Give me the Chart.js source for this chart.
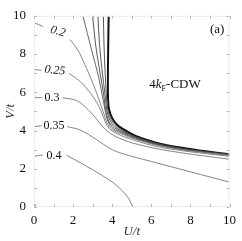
<!DOCTYPE html>
<html>
<head>
<meta charset="utf-8">
<script src="https://cdn.jsdelivr.net/npm/chart.js@4/dist/chart.umd.min.js"></script>
<style>
  html, body { margin: 0; padding: 0; background: #fff; }
  canvas { display: block; }
</style>
</head>
<body>
<canvas id="phase" width="242" height="241"></canvas>
<script>
// contour lines, [U/t, V/t]; null = gap where the label sits
const boundary = [[3.82,10],[3.79,8],[3.78,6.5],[3.79,5.6],[3.84,5.1],[4.0,4.65],[4.25,4.3],[4.6,4.05],[5.2,3.72],[6.2,3.38],[7.4,3.12],[8.7,2.93],[10,2.76]];
const line1 = [[3.55,10],[3.58,8.5],[3.64,7],[3.7,5.9],[3.77,5.1],[3.93,4.6],[4.2,4.25],[4.6,3.98],[5.2,3.68],[6.2,3.35],[7.4,3.1],[8.7,2.91],[10,2.745]];
const line2 = [[3.27,10],[3.35,8.5],[3.5,7],[3.63,5.9],[3.72,5.1],[3.88,4.55],[4.15,4.2],[4.6,3.93],[5.2,3.65],[6.2,3.33],[7.4,3.08],[8.7,2.9],[10,2.735]];
const line3 = [[3.0,10],[3.15,8.5],[3.38,7],[3.56,5.9],[3.66,5.1],[3.82,4.5],[4.1,4.15],[4.6,3.88],[5.2,3.61],[6.2,3.3],[7.4,3.06],[8.7,2.88],[10,2.725]];
const line4 = [[2.5,10],[2.96,8.16],[3.32,6.73],[3.57,5.41],[3.66,4.95],[3.8,4.45],[4.05,4.1],[4.6,3.83],[5.2,3.58],[6.2,3.28],[7.4,3.04],[8.7,2.87],[10,2.715]];
const c020 = [[0,9.64],[0.46,9.44],null,[1.85,8.75],[2.25,8.2],[2.6,7.45],[2.9,6.75],[3.15,6.1],[3.4,5.4],[3.58,4.85],[3.75,4.38],[4.0,4.05],[4.6,3.77],[5.2,3.54],[6.2,3.25],[7.4,3.02],[8.7,2.85],[10,2.7]];
const c025 = [[0,7.2],[0.38,7.14],null,[1.79,6.99],[2.45,6.48],[3.06,5.71],[3.35,5.2],[3.55,4.7],[3.75,4.25],[4.0,3.97],[4.6,3.68],[5.2,3.47],[6.2,3.18],[7.4,2.97],[8.7,2.8],[10,2.65]];
const c030 = [[0,5.72],[0.42,5.72],null,[1.48,5.71],[2.19,5.56],[2.76,5.1],[3.21,4.59],[3.62,4.08],[4.08,3.74],[4.6,3.5],[5.1,3.33],[6.12,3.08],[7.5,2.84],[8.7,2.67],[10,2.5]];
const c035 = [[0,4.2],[0.4,4.25],null,[1.7,4.2],[2.35,4.03],[3.21,3.52],[3.88,3.06],[4.5,2.8],[6,2.38],[8,1.84],[10,1.3]];
const c040 = [[0,2.65],[0.45,2.72],null,[1.68,2.7],[2.5,2.24],[3.52,1.63],[4.23,1.12],[4.8,0.51],[5.05,0]];
const corner = [[0,0.2],[0.12,0]];

const contourLabels = ['0.2', '0.25', '0.3', '0.35', '0.4'];
const labelAt = [[1.22,9.18],[1.07,7.14],[0.92,5.71],[1.02,4.23],[1.02,2.7]];
const labelTilt = [0.28, 0.1, 0, 0, 0];
const xTicks = [0, 2, 4, 6, 8, 10];
const yTicks = [0, 2, 4, 6, 8, 10];

const SERIF = '"Liberation Serif", "DejaVu Serif", serif';

function pts(arr) {
  return arr.map(p => p ? { x: p[0], y: p[1] } : { x: null, y: null });
}

function thin(arr, color) {
  return { data: pts(arr), borderColor: color, borderWidth: 0.9, showLine: true, pointRadius: 0, tension: 0.35, spanGaps: false };
}

const frameAndText = {
  id: 'frameAndText',
  afterDraw(chart) {
    const ctx = chart.ctx;
    const a = chart.chartArea;
    const xs = chart.scales.x, ys = chart.scales.y;
    ctx.save();
    ctx.strokeStyle = '#ececec';
    ctx.lineWidth = 1;
    ctx.strokeRect(a.left + 0.5, a.top + 0.5, a.right - a.left - 1, a.bottom - a.top - 1);
    ctx.strokeStyle = '#b8b8b8';
    ctx.beginPath();
    for (let v = 0; v <= 10; v++) {
      const px = Math.round(xs.getPixelForValue(v)) + 0.5;
      const py = Math.round(ys.getPixelForValue(v)) + 0.5;
      ctx.moveTo(px, a.bottom); ctx.lineTo(px, a.bottom - 3);
      ctx.moveTo(px, a.top); ctx.lineTo(px, a.top + 3);
      ctx.moveTo(a.left, py); ctx.lineTo(a.left + 3, py);
      ctx.moveTo(a.right, py); ctx.lineTo(a.right - 3, py);
    }
    ctx.stroke();

    // contour labels
    ctx.fillStyle = '#111';
    ctx.textAlign = 'center';
    ctx.textBaseline = 'middle';
    contourLabels.forEach((t, i) => {
      const px = xs.getPixelForValue(labelAt[i][0]);
      const py = ys.getPixelForValue(labelAt[i][1]);
      ctx.save();
      ctx.translate(px, py);
      ctx.rotate(labelTilt[i]);
      ctx.font = (i < 2 ? 'italic ' : '') + '12px ' + SERIF;
      ctx.fillText(t, 0, 0);
      ctx.restore();
    });

    // phase name
    ctx.textAlign = 'left';
    ctx.textBaseline = 'alphabetic';
    let x = xs.getPixelForValue(5.9);
    const y = ys.getPixelForValue(6.2);
    ctx.font = '13px ' + SERIF;
    ctx.fillText('4', x, y); x += ctx.measureText('4').width;
    ctx.font = 'italic 13px ' + SERIF;
    ctx.fillText('k', x, y); x += ctx.measureText('k').width;
    ctx.font = '8px ' + SERIF;
    ctx.fillText('F', x, y + 3); x += ctx.measureText('F').width;
    ctx.font = '13px ' + SERIF;
    ctx.fillText('-CDW', x, y);

    ctx.font = '13px ' + SERIF;
    ctx.fillText('(a)', xs.getPixelForValue(9.0), ys.getPixelForValue(9.12));
    ctx.restore();
  }
};

new Chart(document.getElementById('phase'), {
  type: 'scatter',
  data: {
    datasets: [
      thin(c040, '#777'),
      thin(c035, '#777'),
      thin(c030, '#777'),
      thin(c025, '#777'),
      thin(c020, '#777'),
      thin(line4, '#555'),
      thin(line3, '#444'),
      thin(line2, '#444'),
      thin(line1, '#444'),
      thin(corner, '#777'),
      { data: pts(boundary), borderColor: '#111', borderWidth: 2, showLine: true, pointRadius: 0, tension: 0.35 }
    ]
  },
  options: {
    responsive: false,
    animation: false,
    devicePixelRatio: 1,
    layout: { padding: { top: 11, right: 12, left: 0, bottom: 0 } },
    plugins: { legend: { display: false }, tooltip: { enabled: false } },
    scales: {
      x: {
        type: 'linear', min: 0, max: 10,
        afterBuildTicks: s => { s.ticks = xTicks.map(v => ({ value: v })); },
        afterFit: s => { s.height = 34; },
        grid: { display: false, drawTicks: false },
        border: { display: false },
        ticks: { padding: 6, color: '#111', font: { family: SERIF, size: 13 } },
        title: { display: true, text: 'U/t', color: '#333', padding: { top: 0, bottom: 2 }, font: { family: SERIF, size: 13, style: 'italic' } }
      },
      y: {
        type: 'linear', min: 0, max: 10,
        afterBuildTicks: s => { s.ticks = yTicks.map(v => ({ value: v })); },
        afterFit: s => { s.width = 34; },
        grid: { display: false, drawTicks: false },
        border: { display: false },
        ticks: { padding: 8, color: '#111', font: { family: SERIF, size: 13 } },
        title: { display: true, text: 'V/t', color: '#333', padding: { top: 3, bottom: 0 }, font: { family: SERIF, size: 13, style: 'italic' } }
      }
    }
  },
  plugins: [frameAndText]
});
</script>
</body>
</html>
